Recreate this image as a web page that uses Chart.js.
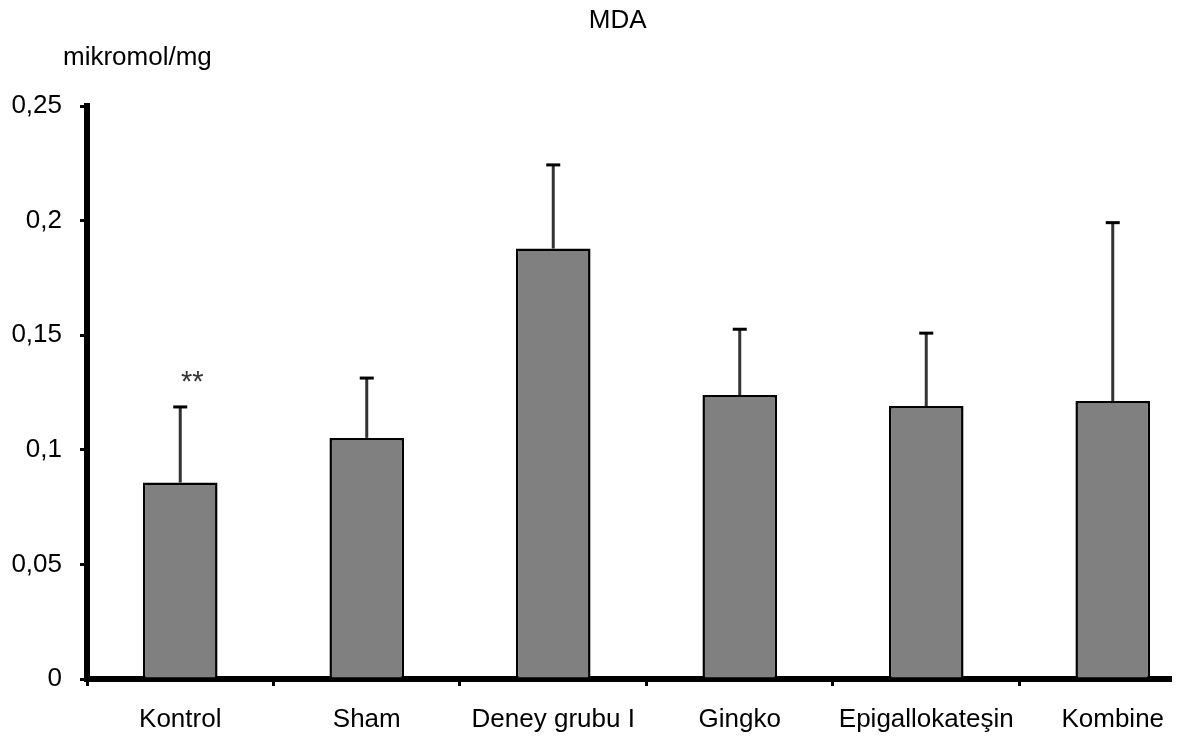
<!DOCTYPE html>
<html>
<head>
<meta charset="utf-8">
<title>MDA</title>
<script src="https://cdn.jsdelivr.net/npm/chart.js@4/dist/chart.umd.min.js"></script>
<style>
    html, body { margin: 0; padding: 0; background: #fff; overflow: hidden; }
</style>
</head>
<body>
<canvas id="chart_mda" width="1184" height="738"></canvas>
<script>
const categories = ['Kontrol', 'Sham', 'Deney grubu I', 'Gingko', 'Epigallokateşin', 'Kombine'];
const meanValues = [0.0857, 0.1052, 0.1878, 0.1239, 0.1191, 0.1213];
const errorValues = [0.0330, 0.0261, 0.0365, 0.0287, 0.0318, 0.0778];
const significance = ['**', '', '', '', '', ''];
const yTickLabels = ['0', '0,05', '0,1', '0,15', '0,2', '0,25'];
const chartTitle = 'MDA';
const yAxisTitle = 'mikromol/mg';

(function(){

    const fontFamily = '"Liberation Sans", Arial, Helvetica, sans-serif';
    Chart.defaults.font.family = fontFamily;
    Chart.defaults.font.size = 26;
    Chart.defaults.color = '#000';

    // tick marks sit between the groups, labels sit under the bars
    const xTickValues = [];
    categories.forEach((c, i) => { xTickValues.push(i - 0.5, i); });

    const errorBarsPlugin = {
        id: 'errorBars',
        afterDatasetsDraw(chart) {
            const ctx = chart.ctx;
            const yScale = chart.scales.y;
            const meta = chart.getDatasetMeta(0);
            ctx.save();
            meta.data.forEach((bar, i) => {
                const top = yScale.getPixelForValue(meanValues[i] + errorValues[i]);
                ctx.beginPath();
                ctx.strokeStyle = '#333';
                ctx.lineWidth = 3;
                ctx.moveTo(bar.x, bar.y);
                ctx.lineTo(bar.x, top);
                ctx.stroke();
                ctx.beginPath();
                ctx.strokeStyle = '#000';
                ctx.lineWidth = 3;
                ctx.moveTo(bar.x - 7, top);
                ctx.lineTo(bar.x + 7, top);
                ctx.stroke();
                if (significance[i]) {
                    ctx.fillStyle = '#333';
                    ctx.font = '29px ' + fontFamily;
                    ctx.textAlign = 'center';
                    ctx.textBaseline = 'alphabetic';
                    ctx.fillText(significance[i], bar.x + 12, top - 16);
                }
            });
            ctx.restore();
        }
    };

    const textPlugin = {
        id: 'titles',
        afterDraw(chart) {
            const ctx = chart.ctx;
            const area = chart.chartArea;
            ctx.save();
            ctx.fillStyle = '#000';
            ctx.font = '26px ' + fontFamily;
            ctx.textBaseline = 'alphabetic';
            ctx.textAlign = 'center';
            ctx.fillText(chartTitle, area.left + area.width * 0.49, 28);
            ctx.textAlign = 'left';
            ctx.fillText(yAxisTitle, 63, 65);
            ctx.restore();
        }
    };

    function renderMdaChart() {
        const chart_mda = document.getElementById('chart_mda').getContext('2d');
        const myChart = new Chart(chart_mda, {
            type: 'bar',
            data: {
                datasets: [{
                    label: chartTitle,
                    data: categories.map((c, i) => ({x: i, y: meanValues[i]})),
                    backgroundColor: '#808080',
                    borderColor: '#000',
                    borderWidth: 2.5,
                    categoryPercentage: 1,
                    barPercentage: 0.8
                }]
            },
            options: {
                responsive: false,
                animation: false,
                layout: {
                    padding: {
                        top: 106,
                        right: 14,
                        bottom: 0,
                        left: 0
                    }
                },
                plugins: {
                    legend: {
                        display: false
                    },
                    tooltip: {
                        enabled: false
                    }
                },
                scales: {
                    x: {
                        type: 'linear',
                        min: -0.5,
                        max: 5.307,
                        offset: false,
                        afterBuildTicks: function(scale) {
                            scale.ticks = xTickValues.map((v) => ({value: v}));
                        },
                        afterFit: function(scale) {
                            scale.height = 59;
                        },
                        border: {
                            display: true,
                            color: '#000',
                            width: 6
                        },
                        grid: {
                            offset: false,
                            drawOnChartArea: false,
                            tickLength: 7,
                            lineWidth: 3,
                            color: function(context) {
                                return Number.isInteger(context.tick.value) ? 'rgba(0,0,0,0)' : '#000';
                            }
                        },
                        ticks: {
                            autoSkip: false,
                            maxRotation: 0,
                            padding: 18,
                            color: '#000',
                            callback: function(value) {
                                return Number.isInteger(value) ? categories[value] : '';
                            }
                        }
                    },
                    y: {
                        min: 0,
                        max: 0.25,
                        afterFit: function(scale) {
                            scale.width = 87;
                        },
                        border: {
                            display: true,
                            color: '#000',
                            width: 6
                        },
                        grid: {
                            drawOnChartArea: false,
                            tickLength: 7,
                            lineWidth: 3,
                            color: '#000'
                        },
                        ticks: {
                            stepSize: 0.05,
                            padding: 18,
                            color: '#000',
                            callback: function(value, index) {
                                return yTickLabels[index];
                            }
                        }
                    }
                }
            },
            plugins: [errorBarsPlugin, textPlugin]
        });
    }

    renderMdaChart();
})();
</script>
</body>
</html>
